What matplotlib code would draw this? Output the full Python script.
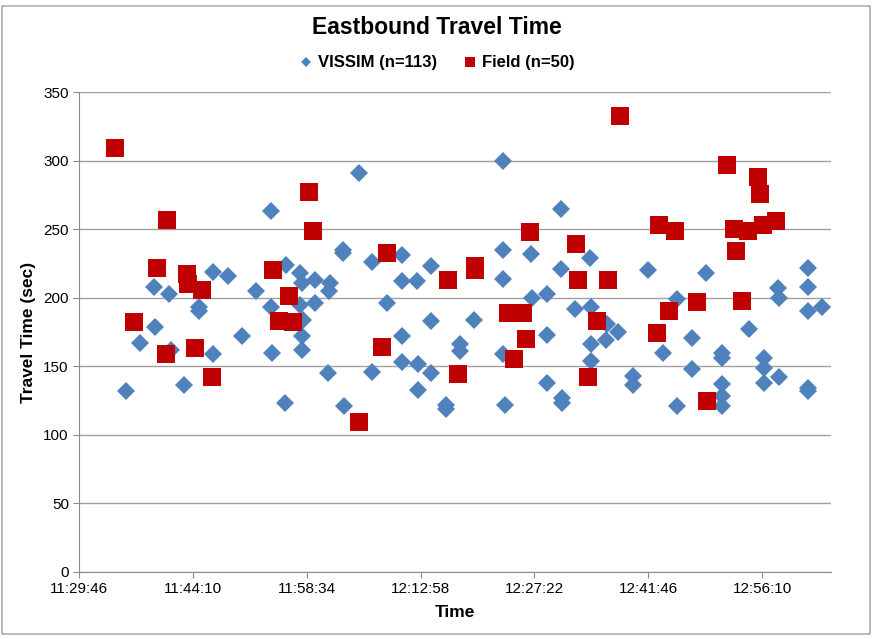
import matplotlib
matplotlib.use("Agg")
import matplotlib.pyplot as plt
from matplotlib.ticker import FixedLocator, FuncFormatter, MultipleLocator
from matplotlib.patches import Rectangle

plt.rcParams['font.family'] = ['Liberation Sans', 'DejaVu Sans']

# VISSIM simulated vehicles (clock time, travel time in sec)
vissim_time = [
    "11:35:41", "11:37:27", "11:39:13", "11:39:21", "11:41:09", "11:41:20", "11:43:01",
    "11:44:53", "11:44:53", "11:46:43", "11:46:43", "11:48:33", "11:50:19", "11:52:08",
    "11:53:59", "11:53:59", "11:54:07", "11:55:50", "11:55:55", "11:57:42", "11:57:55",
    "11:59:36", "11:57:42", "11:59:36", "11:58:02", "11:57:55", "11:57:55", "12:01:16",
    "12:01:29", "12:01:24", "12:03:10", "12:03:10", "12:03:16", "12:05:07", "12:06:46",
    "12:06:51", "12:08:40", "12:10:38", "12:10:38", "12:10:34", "12:10:38", "12:12:28",
    "12:12:35", "12:12:35", "12:14:14", "12:14:14", "12:14:16", "12:16:08", "12:16:08",
    "12:17:56", "12:17:56", "12:19:43", "12:23:23", "12:23:23", "12:23:23", "12:23:21",
    "12:23:38", "12:26:58", "12:27:01", "12:28:55", "12:28:55", "12:28:55", "12:30:41",
    "12:30:41", "12:30:49", "12:30:49", "12:32:29", "12:34:23", "12:34:29", "12:34:29",
    "12:34:29", "12:36:30", "12:36:25", "12:37:58", "12:39:52", "12:39:52", "12:41:41",
    "12:43:35", "12:45:26", "12:45:22", "12:47:16", "12:47:16", "12:49:04", "12:51:03",
    "12:51:03", "12:51:03", "12:51:03", "12:51:08", "12:54:31", "12:56:24", "12:56:24",
    "12:56:24", "12:58:21", "12:58:13", "12:58:21", "13:01:56", "13:01:56", "13:01:56",
    "13:03:43", "13:02:01", "13:02:01",
]
vissim_tt = [
    132, 167, 208, 179, 203, 162, 136,
    193, 190, 219, 159, 216, 172, 205,
    263, 193, 160, 123, 224, 218, 211,
    213, 195, 196, 184, 172, 162, 145,
    211, 205, 235, 233, 121, 291, 226,
    146, 196, 231, 212, 172, 153, 212,
    152, 133, 223, 183, 145, 122, 119,
    166, 161, 184, 300, 235, 214, 159,
    122, 232, 200, 203, 173, 138, 265,
    221, 127, 123, 192, 229, 193, 166,
    154, 181, 169, 175, 143, 136, 220,
    160, 199, 121, 171, 148, 218, 160,
    156, 137, 128, 121, 177, 156, 149,
    138, 142, 207, 200, 222, 208, 190,
    193, 134, 132,
]

# Field measurements
field_time = [
    "11:34:19", "11:36:39", "11:39:36", "11:40:52", "11:40:44", "11:43:26", "11:43:34",
    "11:44:22", "11:45:20", "11:46:31", "11:54:19", "11:55:02", "11:56:20", "11:56:51",
    "11:58:52", "11:59:23", "12:05:12", "12:08:06", "12:08:42", "12:16:23", "12:17:39",
    "12:19:50", "12:19:50", "12:24:03", "12:25:57", "12:24:49", "12:26:17", "12:26:48",
    "12:32:37", "12:32:55", "12:34:06", "12:35:19", "12:36:38", "12:38:11", "12:42:54",
    "12:43:10", "12:44:21", "12:45:09", "12:47:58", "12:49:14", "12:51:46", "12:52:37",
    "12:52:52", "12:53:35", "12:54:25", "12:55:37", "12:55:56", "12:56:15", "12:57:56",
]
field_tt = [
    309, 182, 222, 257, 159, 217, 210,
    163, 206, 142, 220, 183, 201, 182,
    277, 249, 109, 164, 233, 213, 144,
    223, 220, 189, 189, 155, 170, 248,
    239, 213, 142, 183, 213, 333, 174,
    253, 190, 249, 197, 125, 297, 250,
    234, 198, 249, 288, 276, 253, 256,
]


def to_sec(s):
    h, m, sec = [int(v) for v in s.split(":")]
    return h * 3600 + m * 60 + sec


def fmt_time(x, pos=None):
    x = int(round(x))
    return "%d:%02d:%02d" % (x // 3600, (x // 60) % 60, x % 60)


x_start = to_sec("11:29:46")
x_step = 864  # 0.01 day
x_end = x_start + 6.603 * x_step

fig = plt.figure(figsize=(8.74, 6.39), dpi=100)
ax = fig.add_axes([0.0907, 0.1052, 0.8598, 0.7504])

ax.plot([to_sec(t) for t in vissim_time], vissim_tt, linestyle='none', marker='D',
        markersize=9.6, color='#4F81BD', markeredgewidth=0, label='VISSIM (n=113)')
ax.plot([to_sec(t) for t in field_time], field_tt, linestyle='none', marker='s',
        markersize=12.5, color='#C00000', markeredgewidth=0, label='Field (n=50)')

ax.set_xlim(x_start, x_end)
ax.set_ylim(0, 350)
ax.xaxis.set_major_locator(FixedLocator([x_start + k * x_step for k in range(7)]))
ax.xaxis.set_major_formatter(FuncFormatter(fmt_time))
ax.yaxis.set_major_locator(MultipleLocator(50))

ax.grid(axis='y', color='#a0a0a0', linewidth=1.0)
ax.set_axisbelow(True)
for side in ['top', 'right']:
    ax.spines[side].set_visible(False)
for side in ['left', 'bottom']:
    ax.spines[side].set_color('#8c8c8c')
ax.tick_params(axis='both', colors='#8c8c8c', labelcolor='black', labelsize=11,
               length=4, direction='out')

ax.set_xlabel('Time', fontsize=12.5, fontweight='bold', labelpad=6)
ax.set_ylabel('Travel Time (sec)', fontsize=12.5, fontweight='bold', labelpad=5)

fig.text(0.5, 1 - 27 / 639, 'Eastbound Travel Time', ha='center', va='center',
         fontsize=16.5, fontweight='bold')
leg = fig.legend(loc='center', bbox_to_anchor=(0.5, 1 - 63 / 639), ncol=2, frameon=False,
                 prop={'weight': 'bold', 'size': 12}, markerscale=0.55,
                 handlelength=0.8, handletextpad=0.3, columnspacing=1.6)

fig.patches.append(Rectangle((2 / 874, 5 / 639), 868 / 874, 628 / 639, transform=fig.transFigure,
                             fill=False, edgecolor='#b0b0b0', linewidth=1.2))

fig.savefig('out.png', dpi=100)
